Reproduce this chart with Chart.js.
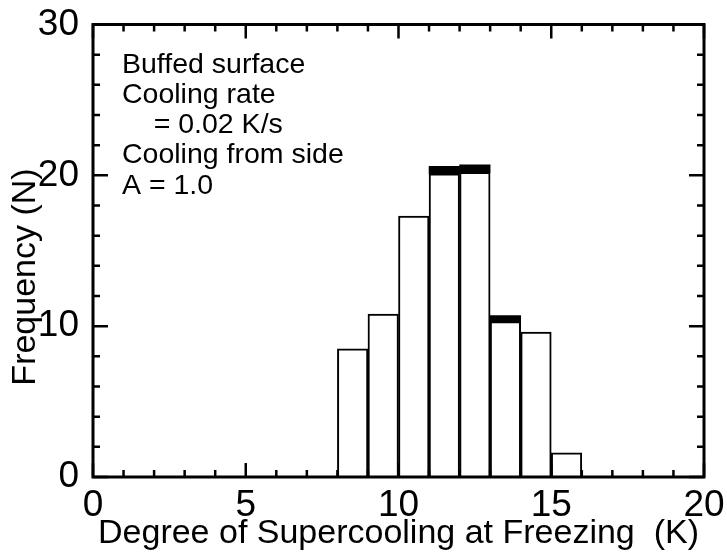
<!DOCTYPE html>
<html>
<head>
<meta charset="utf-8">
<script src="https://cdn.jsdelivr.net/npm/chart.js@4"></script>
<style>
  body { margin: 0; background: #fff; }
  canvas { display: block; }
</style>
</head>
<body>
<canvas id="hist" width="727" height="557"></canvas>
<script>
// histogram bins (left edge, K) and frequencies
const binStarts = [8, 9, 10, 11, 12, 13, 14, 15];
const counts = [8.5, 10.8, 17.3, 20.1, 20.2, 10.3, 9.6, 1.6];
// thick black tops on some bars
const capBins = [11, 12, 13];
const capTops = [20.6, 20.7, 10.7];

const xTicks = [0, 5, 10, 15, 20];
const yTicks = [0, 10, 20, 30];
const notes = ["Buffed surface", "Cooling rate", "    = 0.02 K/s", "Cooling from side", "A = 1.0"];

const FONT = "'Liberation Sans', Arial, sans-serif";

const barData = binStarts.map((b, i) => ({ x: b + 0.5, y: counts[i] }));
const capData = capBins.map((b, i) => ({ x: b + 0.5, y: [counts[binStarts.indexOf(b)], capTops[i]] }));

// frame, inward ticks on all four sides, y title and the notes
const framePlugin = {
  id: "frame",
  afterDatasetsDraw(chart) {
    const { ctx, chartArea: a, scales } = chart;
    ctx.save();
    ctx.strokeStyle = "#000";
    ctx.lineWidth = 3;
    ctx.strokeRect(a.left, a.top, a.right - a.left, a.bottom - a.top);

    ctx.lineWidth = 2.5;
    ctx.beginPath();
    for (let v = 0; v <= 20; v++) {
      const px = scales.x.getPixelForValue(v);
      const len = v % 5 === 0 ? 14 : 7;
      ctx.moveTo(px, a.bottom); ctx.lineTo(px, a.bottom - len);
      ctx.moveTo(px, a.top); ctx.lineTo(px, a.top + len);
    }
    for (let v = 0; v <= 30; v += 2) {
      const py = scales.y.getPixelForValue(v);
      const len = v % 10 === 0 ? 15 : 7;
      ctx.moveTo(a.left, py); ctx.lineTo(a.left + len, py);
      ctx.moveTo(a.right, py); ctx.lineTo(a.right - len, py);
    }
    ctx.stroke();

    ctx.fillStyle = "#000";
    ctx.font = "28.5px " + FONT;
    ctx.textAlign = "left";
    ctx.textBaseline = "alphabetic";
    notes.forEach((t, i) => {
      ctx.fillText(t, a.left + 29, a.top + 48 + i * 30.3);
    });

    ctx.translate(26, 277);
    ctx.rotate(-Math.PI / 2);
    ctx.font = "34px " + FONT;
    ctx.textAlign = "center";
    ctx.textBaseline = "middle";
    ctx.fillText("Frequency (N)", 0, 0);
    ctx.restore();
  }
};

new Chart("hist", {
  type: "bar",
  data: {
    datasets: [
      {
        data: barData,
        backgroundColor: "#fff",
        borderColor: "#000",
        borderWidth: 2,
        barPercentage: 1,
        categoryPercentage: 1,
        grouped: false,
        order: 2
      },
      {
        data: capData,
        backgroundColor: "#000",
        borderColor: "#000",
        borderWidth: 0,
        barPercentage: 1,
        categoryPercentage: 1,
        grouped: false,
        order: 1
      }
    ]
  },
  options: {
    responsive: false,
    animation: false,
    layout: { padding: { top: 19, right: 23, left: 0, bottom: 0 } },
    plugins: { legend: { display: false }, tooltip: { enabled: false } },
    scales: {
      x: {
        type: "linear",
        min: 0,
        max: 20,
        offset: false,
        afterBuildTicks: (s) => { s.ticks = xTicks.map((v) => ({ value: v })); },
        afterFit: (s) => { s.height = 80; },
        grid: { display: false, offset: false },
        border: { display: false },
        ticks: { color: "#000", padding: 2, font: { family: FONT, size: 37, lineHeight: 1 } },
        title: {
          display: true,
          text: "Degree of Supercooling at Freezing  (K)",
          color: "#000",
          font: { family: FONT, size: 34 },
          padding: { top: 0, bottom: 3 }
        }
      },
      y: {
        min: 0,
        max: 30,
        afterBuildTicks: (s) => { s.ticks = yTicks.map((v) => ({ value: v })); },
        afterFit: (s) => { s.width = 93; },
        grid: { display: false },
        border: { display: false },
        ticks: { color: "#000", padding: 6, font: { family: FONT, size: 37, lineHeight: 1 } }
      }
    }
  },
  plugins: [framePlugin]
});
</script>
</body>
</html>
